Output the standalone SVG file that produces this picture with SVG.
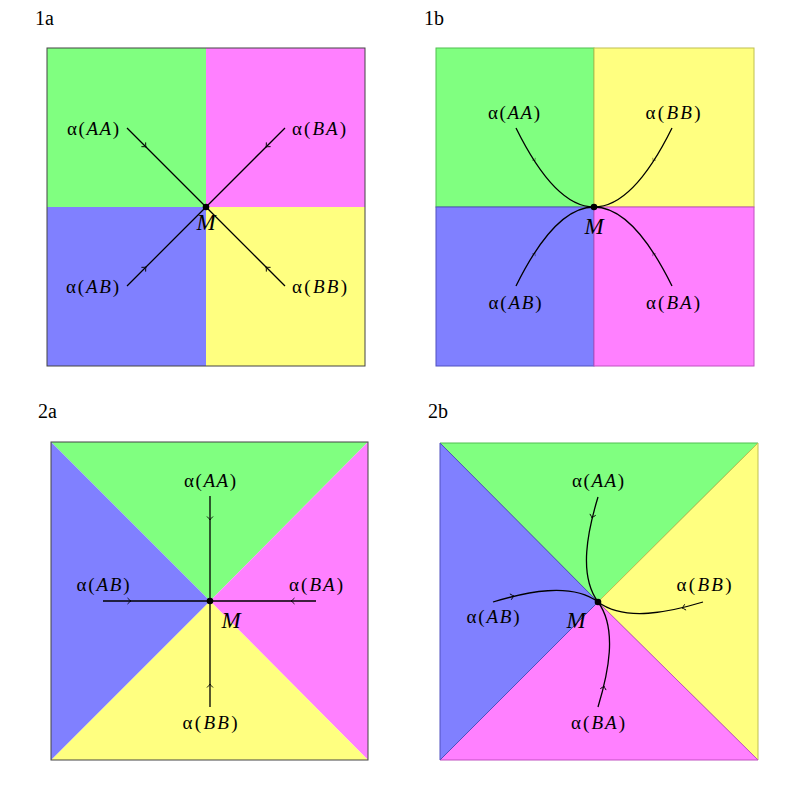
<svg xmlns="http://www.w3.org/2000/svg" xmlns:xlink="http://www.w3.org/1999/xlink" width="800" height="800" viewBox="0 0 800 800">
<style>
.t{font-family:"Liberation Serif","DejaVu Serif",serif;font-size:20px;fill:#000}
.lb{font-family:"Liberation Serif","DejaVu Serif",serif;font-size:19px;fill:#000}
.it{font-style:italic}
.m{font-family:"Liberation Serif","DejaVu Serif",serif;font-size:23px;font-style:italic;fill:#000}
.frame{fill:none;stroke:#444;stroke-width:1}
.ln{fill:none;stroke:#000;stroke-width:1.3}
.ar{fill:none;stroke:#000;stroke-width:0.9}
.g{fill:#80ff80}.p{fill:#ff80ff}.b{fill:#8080ff}.y{fill:#ffff80}
.gs{fill:#80ff80;stroke:#50c050;stroke-width:1}
.ps{fill:#ff80ff;stroke:#c050c0;stroke-width:1}
.bs{fill:#8080ff;stroke:#5050c0;stroke-width:1}
.ys{fill:#ffff80;stroke:#c0c050;stroke-width:1}
</style>
<defs>
<path id="arr" d="M-3.5,-3 Q-1.2,-0.6 0,0 Q-1.2,0.6 -3.5,3"/>
<path id="arrs" d="M-2.5,-2 Q-0.8,-0.4 0,0 Q-0.8,0.4 -2.5,2"/>
</defs>

<g id="titles">
<text class="t" x="35" y="25">1a</text>
<text class="t" x="424" y="25">1b</text>
<text class="t" x="38" y="418">2a</text>
<text class="t" x="428" y="418">2b</text>
</g>

<!-- Panel 1a -->
<g id="panel1a">
<rect class="g" x="47" y="48" width="159" height="159"/>
<rect class="p" x="206" y="48" width="159" height="159"/>
<rect class="b" x="47" y="207" width="159" height="159"/>
<rect class="y" x="206" y="207" width="159" height="159"/>
<rect class="frame" x="47" y="48" width="318" height="318"/>
</g>
<g id="connectors1a">
<path class="ln" d="M127,128 L206,207 M285,128 L206,207 M127,286 L206,207 M285,286 L206,207"/>
<use href="#arr" class="ar" transform="translate(146,147) rotate(45)"/>
<use href="#arr" class="ar" transform="translate(266,147) rotate(135)"/>
<use href="#arr" class="ar" transform="translate(146,267) rotate(-45)"/>
<use href="#arr" class="ar" transform="translate(266,267) rotate(-135)"/>
</g>
<g id="M1a"><circle cx="206" cy="207" r="3.3" fill="#000"/><text class="m" x="206" y="230" text-anchor="middle">M</text></g>
<g id="l1a-AA"><text class="lb" x="119" y="135" text-anchor="end" textLength="52" lengthAdjust="spacing">α(<tspan class="it">AA</tspan>)</text></g>
<g id="l1a-BA"><text class="lb" x="292" y="135" textLength="54" lengthAdjust="spacing">α(<tspan class="it">BA</tspan>)</text></g>
<g id="l1a-AB"><text class="lb" x="119" y="293" text-anchor="end" textLength="53" lengthAdjust="spacing">α(<tspan class="it">AB</tspan>)</text></g>
<g id="l1a-BB"><text class="lb" x="292" y="293" textLength="55" lengthAdjust="spacing">α(<tspan class="it">BB</tspan>)</text></g>

<!-- Panel 1b -->
<g id="panel1b">
<rect class="gs" x="436" y="48" width="158" height="159"/>
<rect class="ys" x="594" y="48" width="160" height="159"/>
<rect class="bs" x="436" y="207" width="158" height="159"/>
<rect class="ps" x="594" y="207" width="160" height="159"/>
</g>
<g id="connectors1b">
<path class="ln" d="M516,128 Q555,207 594,207 M672,128 Q633,207 594,207 M516,286 Q555,207 594,207 M672,286 Q633,207 594,207"/>
<use href="#arrs" class="ar" stroke-opacity="0.4" transform="translate(535,161) rotate(57)"/>
<use href="#arrs" class="ar" stroke-opacity="0.4" transform="translate(653,161) rotate(123)"/>
<use href="#arrs" class="ar" stroke-opacity="0.4" transform="translate(535,253) rotate(-57)"/>
<use href="#arrs" class="ar" stroke-opacity="0.4" transform="translate(653,253) rotate(-123)"/>
</g>
<g id="M1b"><circle cx="594" cy="207" r="3.3" fill="#000"/><text class="m" x="594" y="234" text-anchor="middle">M</text></g>
<g id="l1b-AA"><text class="lb" x="514" y="119" text-anchor="middle" textLength="52" lengthAdjust="spacing">α(<tspan class="it">AA</tspan>)</text></g>
<g id="l1b-BB"><text class="lb" x="673" y="119" text-anchor="middle" textLength="55" lengthAdjust="spacing">α(<tspan class="it">BB</tspan>)</text></g>
<g id="l1b-AB"><text class="lb" x="515" y="309" text-anchor="middle" textLength="53" lengthAdjust="spacing">α(<tspan class="it">AB</tspan>)</text></g>
<g id="l1b-BA"><text class="lb" x="673" y="309" text-anchor="middle" textLength="54" lengthAdjust="spacing">α(<tspan class="it">BA</tspan>)</text></g>

<!-- Panel 2a -->
<g id="panel2a">
<polygon class="g" points="51,442 368,442 210,601"/>
<polygon class="p" points="368,442 368,760 210,601"/>
<polygon class="y" points="368,760 51,760 210,601"/>
<polygon class="b" points="51,760 51,442 210,601"/>
<rect class="frame" x="51" y="442" width="317" height="318"/>
</g>
<g id="connectors2a">
<path class="ln" d="M210,496 L210,601 M210,707 L210,601 M103,601 L210,601 M316,601 L210,601"/>
<use href="#arr" class="ar" transform="translate(210,520) rotate(90)"/>
<use href="#arr" class="ar" transform="translate(210,684) rotate(-90)"/>
<use href="#arr" class="ar" transform="translate(131,601)"/>
<use href="#arr" class="ar" transform="translate(291,601) rotate(180)"/>
</g>
<g id="M2a"><circle cx="210" cy="601" r="3.3" fill="#000"/><text class="m" x="231" y="628" text-anchor="middle">M</text></g>
<g id="l2a-AA"><text class="lb" x="210" y="487" text-anchor="middle" textLength="52" lengthAdjust="spacing">α(<tspan class="it">AA</tspan>)</text></g>
<g id="l2a-BB"><text class="lb" x="210" y="729" text-anchor="middle" textLength="55" lengthAdjust="spacing">α(<tspan class="it">BB</tspan>)</text></g>
<g id="l2a-AB"><text class="lb" x="103" y="591" text-anchor="middle" textLength="53" lengthAdjust="spacing">α(<tspan class="it">AB</tspan>)</text></g>
<g id="l2a-BA"><text class="lb" x="316" y="591" text-anchor="middle" textLength="54" lengthAdjust="spacing">α(<tspan class="it">BA</tspan>)</text></g>

<!-- Panel 2b -->
<g id="panel2b">
<polygon class="gs" points="440,443 758,443 598,602"/>
<polygon class="ys" points="758,443 758,760 598,602"/>
<polygon class="ps" points="758,760 440,760 598,602"/>
<polygon class="bs" points="440,760 440,443 598,602"/>
</g>
<g id="connectors2b">
<path class="ln" d="M598,497 C588,530 578,575 598,602 M493,602 C526,592 571,582 598,602 M703,602 C670,612 625,622 598,602 M598,707 C608,674 618,629 598,602"/>
<use href="#arr" class="ar" transform="translate(592,518) rotate(103.5)"/>
<use href="#arr" class="ar" transform="translate(514,596) rotate(-13.5)"/>
<use href="#arr" class="ar" transform="translate(682,608) rotate(166.5)"/>
<use href="#arr" class="ar" transform="translate(604,686) rotate(-76.5)"/>
</g>
<g id="M2b"><circle cx="598" cy="602" r="3.3" fill="#000"/><text class="m" x="576" y="628" text-anchor="middle">M</text></g>
<g id="l2b-AA"><text class="lb" x="598" y="487" text-anchor="middle" textLength="52" lengthAdjust="spacing">α(<tspan class="it">AA</tspan>)</text></g>
<g id="l2b-BB"><text class="lb" x="704" y="591" text-anchor="middle" textLength="55" lengthAdjust="spacing">α(<tspan class="it">BB</tspan>)</text></g>
<g id="l2b-AB"><text class="lb" x="493" y="623" text-anchor="middle" textLength="53" lengthAdjust="spacing">α(<tspan class="it">AB</tspan>)</text></g>
<g id="l2b-BA"><text class="lb" x="598" y="729" text-anchor="middle" textLength="54" lengthAdjust="spacing">α(<tspan class="it">BA</tspan>)</text></g>
</svg>
